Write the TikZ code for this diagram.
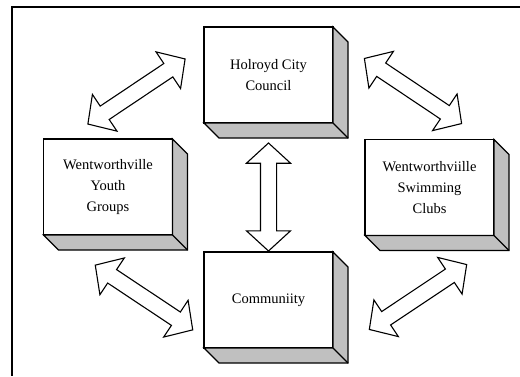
\documentclass[tikz,border=0pt]{standalone}
\usepackage{fontspec}
\setmainfont{Liberation Serif}
\usetikzlibrary{shapes.arrows, positioning, calc}
\definecolor{sidegray}{RGB}{192,192,192}

\begin{document}
\begin{tikzpicture}[x=1pt, y=-1pt, line width=1.4pt,
    font=\fontsize{14.5}{21}\selectfont,
    blk/.style={draw, fill=white, minimum width=129pt, minimum height=96pt,
        align=center, inner sep=0pt, outer sep=0pt},
    dbl/.style={draw, fill=white, double arrow, line width=1.1pt,
        inner xsep=0pt, inner ysep=7.5pt, minimum width=0pt,
        double arrow head extend=14pt, double arrow tip angle=95,
        minimum height=117pt}]
    \useasboundingbox (0,0) rectangle (520,376);
    \draw (520,7) -- (12,7) -- (12,376);
    \node[blk] (hcc) at (268.5,75) {Holroyd City\\Council};
    \node[blk, below=129pt of hcc] (com) {Communiity};
    \node[blk] (wyg) at (108,187) {Wentworthville\\Youth\\Groups};
    \node[blk] (wsc) at (429.5,187.5) {Wentworthviille\\Swimming\\Clubs};
    % depth of the boxes
    \foreach \n in {hcc,wyg,wsc,com}{
        \draw[fill=sidegray] (\n.north east) -- ++(15,15)
            |- ($(\n.south west)+(15,15)$) -- (\n.south west)
            -- (\n.south east) -- cycle;
        \draw (\n.south east) -- ++(15,15);
    }
    \node[dbl, rotate=90, minimum height=108pt] (mid) at (268.5,197) {};
    \node[dbl, rotate=33.8] (tl) at (136.5,91.5) {};
    \node[dbl, rotate=-33.8] (tr) at (413,91) {};
    \node[dbl, rotate=-33.6] (bl) at (144,297.5) {};
    \node[dbl, rotate=33.7] (br) at (418,297) {};
\end{tikzpicture}
\end{document}
